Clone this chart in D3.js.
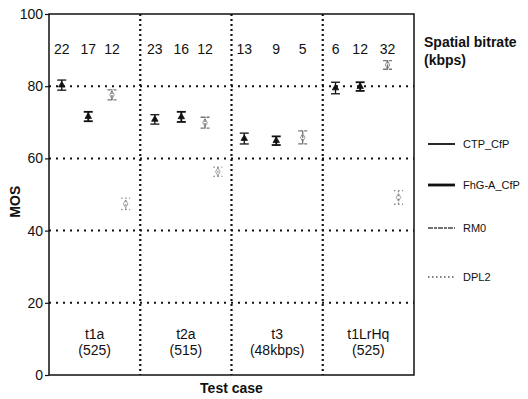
<!DOCTYPE html>
<html>
<head>
<meta charset="utf-8">
<script src="https://cdn.jsdelivr.net/npm/d3@7"></script>
<style>
  body { margin: 0; background: #fff; }
  text { font-family: "Liberation Sans", Arial, sans-serif; fill: #111; }
</style>
</head>
<body>
<script>
// test cases along the x axis
var testCases = ["t1a", "t2a", "t3", "t1LrHq"];
var testSub = ["(525)", "(515)", "(48kbps)", "(525)"];
var yTicks = [0, 20, 40, 60, 80, 100];

// position of each codec inside its test case (0..1 of the case width)
var slotCTP = [0.14, 0.16, 0.14, 0.14];
var slotFhG = [0.43, 0.45, 0.49, 0.41];
var slotRM0 = [0.69, 0.71, 0.78, 0.71];
var slotDPL2 = [0.84, 0.85, null, 0.83];

// MOS means and half confidence intervals
var mosCTP = [80.3, 70.8, 65.5, 79.5];
var mosFhG = [71.6, 71.5, 64.9, 79.9];
var mosRM0 = [77.6, 69.9, 65.8, 85.9];
var mosDPL2 = [47.4, 56.3, null, 49.2];
var ciCTP = [1.4, 1.3, 1.5, 1.6];
var ciFhG = [1.3, 1.4, 1.2, 1.2];
var ciRM0 = [1.4, 1.5, 1.8, 1.2];
var ciDPL2 = [1.6, 1.3, null, 1.9];

// spatial bitrate labels (kbps), for the first three codecs
var bitrates = [[22, 17, 12], [23, 16, 12], [13, 9, 5], [6, 12, 32]];

var series = [
  { name: "CTP_CfP", slot: slotCTP, mos: mosCTP, ci: ciCTP, color: "#111", legColor: "#111", width: 1.8, dash: null },
  { name: "FhG-A_CfP", slot: slotFhG, mos: mosFhG, ci: ciFhG, color: "#111", legColor: "#111", width: 2.8, dash: null },
  { name: "RM0", slot: slotRM0, mos: mosRM0, ci: ciRM0, color: "#777", legColor: "#444", width: 1.5, dash: "5,1,3,1" },
  { name: "DPL2", slot: slotDPL2, mos: mosDPL2, ci: ciDPL2, color: "#888", legColor: "#555", width: 1.3, dash: "1.5,2.5" }
];

var width = 528, height = 399;
var plotL = 49, plotR = 414, plotT = 14, plotB = 375;

var svg = d3.select("body").append("svg")
  .attr("width", width)
  .attr("height", height);

var x = d3.scaleLinear().domain([0, testCases.length]).range([plotL, plotR]);
var y = d3.scaleLinear().domain([0, 100]).range([plotB, plotT]);

// horizontal dotted grid
svg.append("g").selectAll("line")
  .data(yTicks.filter(function(d) { return d > 0 && d < 100; }))
  .enter().append("line")
  .attr("x1", plotL).attr("x2", plotR)
  .attr("y1", function(d) { return y(d); })
  .attr("y2", function(d) { return y(d); })
  .attr("stroke", "#111")
  .attr("stroke-width", 2)
  .attr("stroke-dasharray", "2,5");

// vertical dotted separators
svg.append("g").selectAll("line")
  .data(d3.range(1, testCases.length))
  .enter().append("line")
  .attr("x1", function(d) { return x(d); })
  .attr("x2", function(d) { return x(d); })
  .attr("y1", plotT).attr("y2", plotB)
  .attr("stroke", "#111")
  .attr("stroke-width", 2.2)
  .attr("stroke-dasharray", "2,3");

// frame
svg.append("rect")
  .attr("x", plotL).attr("y", plotT)
  .attr("width", plotR - plotL).attr("height", plotB - plotT)
  .attr("fill", "none")
  .attr("stroke", "#111")
  .attr("stroke-width", 1.5);

// y axis
var yAxis = d3.axisLeft(y).tickValues(yTicks).tickSize(4).tickPadding(2);
var ga = svg.append("g").attr("transform", "translate(" + plotL + ",0)").call(yAxis);
ga.select(".domain").remove();
ga.selectAll("line").attr("stroke", "#111").attr("stroke-width", 1.2);
ga.selectAll("text")
  .style("font-family", "'Liberation Sans', Arial, sans-serif")
  .style("font-size", "14px")
  .attr("fill", "#111");

// test case labels
svg.append("g").selectAll("text")
  .data(testCases)
  .enter().append("text")
  .attr("x", function(d, i) { return x(i + 0.5); })
  .attr("y", 339)
  .attr("text-anchor", "middle")
  .style("font-size", "14px")
  .text(function(d) { return d; });

svg.append("g").selectAll("text")
  .data(testSub)
  .enter().append("text")
  .attr("x", function(d, i) { return x(i + 0.5); })
  .attr("y", 355)
  .attr("text-anchor", "middle")
  .style("font-size", "14px")
  .text(function(d) { return d; });

// bitrate labels
bitrates.forEach(function(row, i) {
  svg.append("g").selectAll("text")
    .data(row)
    .enter().append("text")
    .attr("x", function(d, j) { return x(i + series[j].slot[i]); })
    .attr("y", 54)
    .attr("text-anchor", "middle")
    .style("font-size", "14px")
    .text(function(d) { return d; });
});

// error bars
series.forEach(function(s) {
  var pts = s.mos.map(function(m, i) {
    return { i: i, m: m, c: s.ci[i], p: s.slot[i] };
  }).filter(function(d) { return d.m != null; });

  var g = svg.append("g")
    .attr("stroke", s.color)
    .attr("stroke-width", s.width > 2 ? 1.8 : 1.3)
    .attr("fill", "none");

  pts.forEach(function(d) {
    var cx = x(d.i + d.p);
    g.append("line")
      .attr("x1", cx).attr("x2", cx)
      .attr("y1", y(d.m - d.c)).attr("y2", y(d.m + d.c))
      .attr("stroke-dasharray", s.dash);
    [d.m - d.c, d.m + d.c].forEach(function(v) {
      g.append("line")
        .attr("x1", cx - 4.5).attr("x2", cx + 4.5)
        .attr("y1", y(v)).attr("y2", y(v))
        .attr("stroke-dasharray", s.dash);
    });
    g.append("path")
      .attr("d", d3.symbol().type(s.dash ? d3.symbolDiamond : d3.symbolTriangle).size(18)())
      .attr("transform", "translate(" + cx + "," + y(d.m) + ")")
      .attr("fill", s.dash ? "none" : s.color)
      .attr("stroke-width", 0.8);
  });
});

// legend
var legendY = [144, 185, 228, 277];
var lg = svg.append("g").selectAll("g")
  .data(series)
  .enter().append("g")
  .attr("transform", function(d, i) { return "translate(428," + legendY[i] + ")"; });

lg.append("line")
  .attr("x1", 0).attr("x2", 27)
  .attr("stroke", function(d) { return d.legColor; })
  .attr("stroke-width", function(d) { return d.width; })
  .attr("stroke-dasharray", function(d) { return d.dash; });

lg.append("text")
  .attr("x", 35)
  .attr("y", 4)
  .style("font-size", "11px")
  .text(function(d) { return d.name; });

// titles
svg.append("text")
  .attr("x", 424).attr("y", 47)
  .style("font-size", "14px").style("font-weight", "bold")
  .text("Spatial bitrate");
svg.append("text")
  .attr("x", 424).attr("y", 65)
  .style("font-size", "14px").style("font-weight", "bold")
  .text("(kbps)");

svg.append("text")
  .attr("x", (plotL + plotR) / 2).attr("y", 393)
  .attr("text-anchor", "middle")
  .style("font-size", "14px").style("font-weight", "bold")
  .text("Test case");

svg.append("text")
  .attr("transform", "translate(20," + y(48) + ") rotate(-90)")
  .attr("text-anchor", "middle")
  .style("font-size", "14px").style("font-weight", "bold")
  .text("MOS");
</script>
</body>
</html>
